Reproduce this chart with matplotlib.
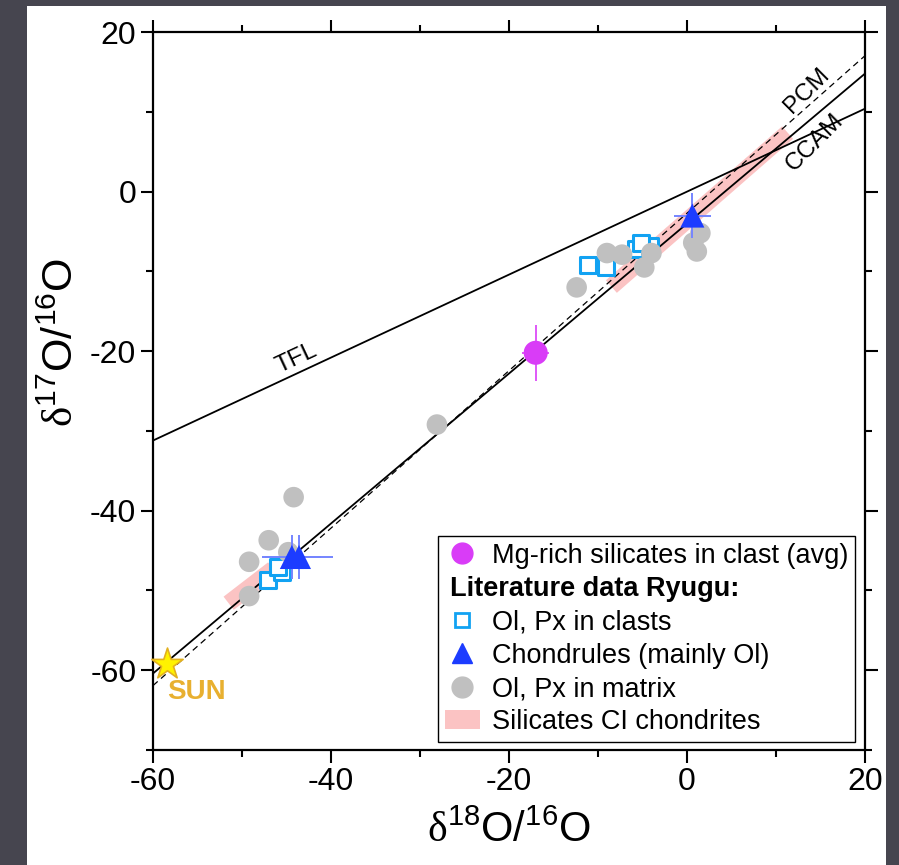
import numpy as np
import matplotlib
matplotlib.use('Agg')
import matplotlib.pyplot as plt
from matplotlib.lines import Line2D
from matplotlib.patches import Patch, Rectangle

plt.rcParams['font.family'] = ['Liberation Sans', 'DejaVu Sans']
plt.rcParams['mathtext.fontset'] = 'custom'
plt.rcParams['mathtext.rm'] = 'Liberation Sans'
plt.rcParams['mathtext.sf'] = 'Liberation Serif'
plt.rcParams['axes.unicode_minus'] = False

# reference lines: slope, intercept
tfl = (0.52, 0.0)
ccam = (0.94, -4.0)
pcm = (0.987, -2.7)

# Mg-rich silicates in clast (avg)
mg_x = [-17.0]
mg_y = [-20.2]
mg_xerr = [1.5]
mg_yerr = [3.5]

# literature data Ryugu
clast_x = [-11.1, -9.1, -5.7, -4.2, -5.2, -47.1, -45.5, -46.0]
clast_y = [-9.2, -9.4, -7.2, -6.8, -6.4, -48.7, -47.7, -47.0]

chond_x = [0.6, -44.4, -43.6]
chond_y = [-3.0, -45.8, -45.8]
chond_xerr = [2.1, 3.3, 3.8]
chond_yerr = [2.8, 2.8, 2.8]

matrix_x = [-28.1, -12.4, -9.0, -7.3, -4.0, -4.8, 0.7, 1.5, 1.1,
            -44.2, -47.0, -49.2, -49.2, -44.8]
matrix_y = [-29.2, -12.0, -7.7, -7.9, -7.7, -9.5, -6.4, -5.2, -7.5,
            -38.3, -43.7, -46.4, -50.7, -45.2]

# silicates CI chondrites (band segments)
ci_bands = [([-8.5, 11.3], [-11.9, 7.4]),
            ([-51.5, -46.5], [-51.6, -47.3])]

sun_x, sun_y = -58.4, -59.2

fig = plt.figure(figsize=(8.99, 8.65), dpi=100, facecolor='#46454f')
fig.patches.append(Rectangle((27 / 899, 0), 859 / 899, 859 / 865,
                             transform=fig.transFigure, facecolor='white',
                             edgecolor='none', zorder=-5))
ax = fig.add_axes([0.1702, 0.1329, 0.792, 0.830])

xs = np.array([-60, 20])
ax.plot(xs, tfl[0] * xs + tfl[1], color='black', lw=1.3, zorder=2)
ax.plot(xs, ccam[0] * xs + ccam[1], color='black', lw=1.3, zorder=2)
ax.plot(xs, pcm[0] * xs + pcm[1], color='black', lw=0.9, dashes=(5, 3.5), zorder=2)

for bx, by in ci_bands:
    ax.plot(bx, by, color='#fbc3c3', lw=12, solid_capstyle='butt', zorder=1)

ax.scatter(clast_x, clast_y, marker='s', s=130, facecolors='white',
           edgecolors='#12a2f2', linewidths=2.2, zorder=3)
ax.scatter(matrix_x, matrix_y, marker='o', s=220, color='#c0c0c0',
           edgecolors='none', zorder=4)
ax.errorbar(chond_x, chond_y, xerr=chond_xerr, yerr=chond_yerr, fmt='none',
            ecolor='#7585ff', elinewidth=1.4, capsize=0, zorder=5)
ax.scatter(chond_x, chond_y, marker='^', s=300, color='#1c3cff',
           edgecolors='none', zorder=6)
ax.errorbar(mg_x, mg_y, xerr=mg_xerr, yerr=mg_yerr, fmt='none',
            ecolor='#d93cf7', elinewidth=1.2, capsize=0, zorder=5)
ax.scatter(mg_x, mg_y, marker='o', s=300, color='#d93cf7',
           edgecolors='none', zorder=6)
ax.scatter([sun_x], [sun_y], marker='*', s=560, color='#fff200',
           edgecolors='#e2b020', linewidths=1.2, zorder=7, clip_on=False)

ax.text(-55.1, -62.7, 'SUN', color='#e8b030', fontsize=20, fontweight='bold',
        ha='center', va='center')
ax.text(-43.9, -20.9, 'TFL', fontsize=17.5, rotation=25, ha='center', va='center')
ax.text(13.5, 12.7, 'PCM', fontsize=17.5, rotation=45, ha='center', va='center')
ax.text(14.4, 6.2, 'CCAM', fontsize=17.5, rotation=45, ha='center', va='center')

ax.set_xlim(-60, 20)
ax.set_ylim(-70, 20)
ax.set_xticks([-60, -40, -20, 0, 20])
ax.set_xticks(np.arange(-50, 20, 20), minor=True)
ax.set_yticks([-60, -40, -20, 0, 20])
ax.set_yticks(np.arange(-70, 20, 20), minor=True)
ax.tick_params(which='both', direction='out', top=True, right=True,
               width=1.5, labelsize=23, pad=3)
ax.tick_params(which='major', length=9)
ax.tick_params(which='minor', length=5)
for sp in ax.spines.values():
    sp.set_linewidth(1.6)

ax.set_xlabel(r'$\mathsf{δ}^{\mathrm{18}}$O/$^{\mathrm{16}}$O', fontsize=30)
ax.set_ylabel(r'$\mathsf{δ}^{\mathrm{17}}$O/$^{\mathrm{16}}$O', fontsize=31)
ax.xaxis.set_label_coords(0.5, -0.084)
ax.yaxis.set_label_coords(-0.1, 0.568)

handles = [
    Line2D([], [], marker='o', ls='none', color='#d93cf7', markersize=15),
    Line2D([], [], ls='none'),
    Line2D([], [], marker='s', ls='none', markerfacecolor='white',
           markeredgecolor='#12a2f2', markeredgewidth=2, markersize=10),
    Line2D([], [], marker='^', ls='none', color='#1c3cff', markersize=15),
    Line2D([], [], marker='o', ls='none', color='#c0c0c0', markersize=15),
    Patch(facecolor='#fbc3c3', edgecolor='none'),
]
labels = ['Mg-rich silicates in clast (avg)', 'X', 'Ol, Px in clasts',
          'Chondrules (mainly Ol)', 'Ol, Px in matrix', 'Silicates CI chondrites']
leg = ax.legend(handles, labels, loc='lower right', bbox_to_anchor=(0.986, 0.011),
                borderaxespad=0, fontsize=19.5, labelspacing=0.27, handlelength=1.3,
                handletextpad=0.45, borderpad=0.25, fancybox=False,
                edgecolor='black', framealpha=1)
leg.get_frame().set_linewidth(1.0)
leg.set_zorder(10)

# bold sub-heading sits in the second legend row, starting at the handle column
blank = leg.get_texts()[1]
blank.set_alpha(0)
fig.canvas.draw()
bb = blank.get_window_extent()
py = ax.transAxes.inverted().transform((0, (bb.y0 + bb.y1) / 2))[1]
ax.text(0.417, py, 'Literature data Ryugu:', transform=ax.transAxes,
        fontsize=19.5, fontweight='bold', va='center', ha='left', zorder=11)

fig.savefig('out.png', dpi=100, facecolor=fig.get_facecolor())
